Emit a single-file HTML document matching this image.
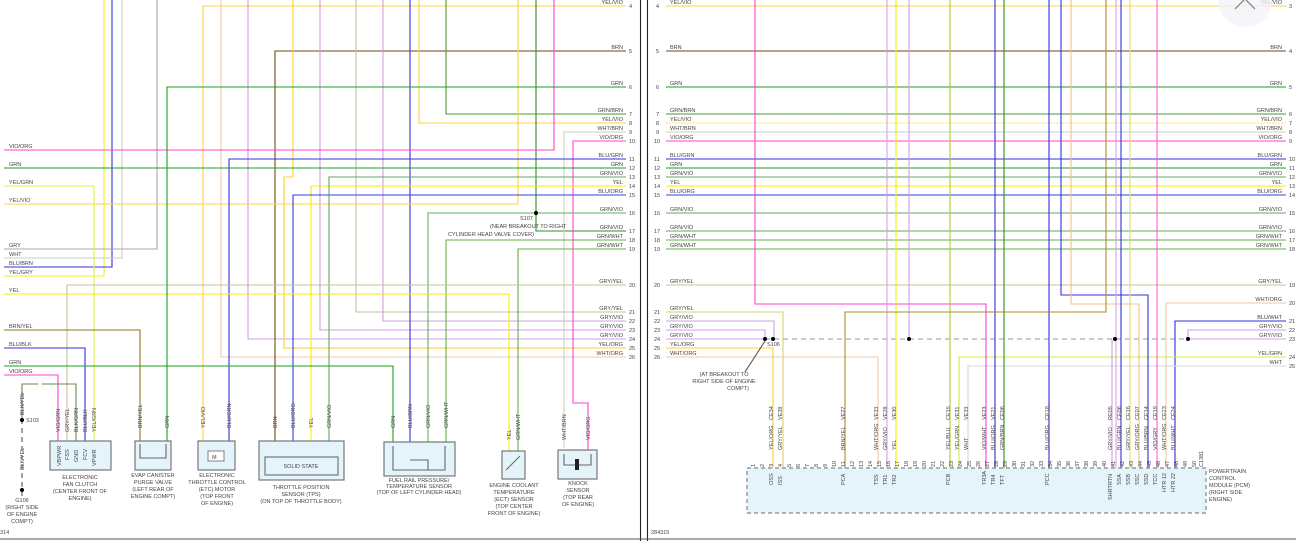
<!DOCTYPE html>
<html><head><meta charset="utf-8"><style>
html,body{margin:0;padding:0;background:#fff;}
svg{display:block;}
text{font-family:"Liberation Sans",sans-serif;font-size:5.5px;fill:#444;}
.r{text-anchor:end;}
.c{text-anchor:middle;}
path,line,polyline{fill:none;stroke-width:1.1;}
.box{fill:#e4f4fa;stroke:#777;stroke-width:1.2;}
</style></head><body>
<svg width="1296" height="541" viewBox="0 0 1296 541" xmlns="http://www.w3.org/2000/svg">
<!-- LEFT PANEL verticals -->
<g>
<path d="M104 0V276H4" stroke="#f0f020"/>
<path d="M112 0V267H4" stroke="#3030e0"/>
<path d="M122 0V258H4" stroke="#c8d0c8"/>
<path d="M157 0V249H4" stroke="#b8a0b0"/>
<path d="M626 6H203V448" stroke="#ffd040"/>
<path d="M221 0V357H626" stroke="#f0c8a8"/>
<path d="M248 0V339H626" stroke="#d0a0e0"/>
<path d="M626 51H275V448" stroke="#6b4a10"/>
<path d="M293 0V177H284V348H626" stroke="#ffd020"/>
<path d="M320 0V330H626" stroke="#d0a0e0"/>
<path d="M356 0V312H626" stroke="#c8c0a0"/>
<path d="M383 0V321H626" stroke="#d0a0e0"/>
<path d="M410 0V448" stroke="#3030e0"/>
<path d="M419 0V123H626" stroke="#ffd040"/>
<path d="M446 0V114H626" stroke="#4a9a30"/>
<path d="M518 0V204H4" stroke="#ffd040"/>
<path d="M536 0V231H626" stroke="#2a902a"/>
<path d="M554 0V150H4" stroke="#ff40d0"/>
<path d="M626 132H564V448" stroke="#c8d0c0"/>
<path d="M626 141H573V403H588V450" stroke="#ff40d0"/>
<path d="M626 159H229V448" stroke="#3030e0"/>
<path d="M4 168H626" stroke="#1aa01a"/>
<path d="M4 186H94V448" stroke="#e0f040"/>
<path d="M626 186H311V448" stroke="#f0f000"/>
<path d="M626 195H293V448" stroke="#3040e0"/>
<path d="M626 177H329V448" stroke="#60a860"/>
<path d="M626 213H428V448" stroke="#60b060"/>
<path d="M626 240H446V448" stroke="#60b040"/>
<path d="M626 249H518V451" stroke="#60b040"/>
<path d="M626 285H67V448" stroke="#c8c0a0"/>
<path d="M4 294H509V451" stroke="#f0f000"/>
<path d="M4 330H140V448" stroke="#8a7a20"/>
<path d="M4 348H85V448" stroke="#3030e0"/>
<path d="M4 366H393V448" stroke="#1aa01a"/>
<path d="M4 375H58V448" stroke="#ff40d0"/>
<path d="M626 87H167V448" stroke="#1aa01a"/>
<path d="M76 448V384H42M38 384H22V420" stroke="#6a8a50"/>
<path d="M22 392V500" stroke="#555" stroke-dasharray="5,4"/>
<circle cx="536" cy="213" r="2" fill="#000"/>
<circle cx="22" cy="420" r="2" fill="#000"/>
<circle cx="22" cy="490" r="2" fill="#000"/>
</g>
<!-- left labels -->
<g>
<text x="9" y="148">VIO/ORG</text><text x="9" y="166">GRN</text><text x="9" y="184">YEL/GRN</text><text x="9" y="202">YEL/VIO</text>
<text x="9" y="247">GRY</text><text x="9" y="256">WHT</text><text x="9" y="265">BLU/BRN</text><text x="9" y="274">YEL/GRY</text>
<text x="9" y="292">YEL</text><text x="9" y="328">BRN/YEL</text><text x="9" y="346">BLU/BLK</text><text x="9" y="364">GRN</text><text x="9" y="373">VIO/ORG</text>
</g>
<g class="r">
<text class="r" x="623" y="4">YEL/VIO</text><text class="r" x="623" y="49">BRN</text><text class="r" x="623" y="85">GRN</text>
<text class="r" x="623" y="112">GRN/BRN</text><text class="r" x="623" y="121">YEL/VIO</text><text class="r" x="623" y="130">WHT/BRN</text><text class="r" x="623" y="139">VIO/ORG</text>
<text class="r" x="623" y="157">BLU/GRN</text><text class="r" x="623" y="166">GRN</text><text class="r" x="623" y="175">GRN/VIO</text><text class="r" x="623" y="184">YEL</text><text class="r" x="623" y="193">BLU/ORG</text>
<text class="r" x="623" y="211">GRN/VIO</text><text class="r" x="623" y="229">GRN/VIO</text><text class="r" x="623" y="238">GRN/WHT</text><text class="r" x="623" y="247">GRN/WHT</text>
<text class="r" x="623" y="283">GRY/YEL</text><text class="r" x="623" y="310">GRY/YEL</text><text class="r" x="623" y="319">GRY/VIO</text><text class="r" x="623" y="328">GRY/VIO</text><text class="r" x="623" y="337">GRY/VIO</text><text class="r" x="623" y="346">YEL/ORG</text><text class="r" x="623" y="355">WHT/ORG</text>
</g>
<g>
<text x="629" y="8">4</text><text x="629" y="53">5</text><text x="629" y="89">6</text><text x="629" y="116">7</text><text x="629" y="125">8</text><text x="629" y="134">9</text><text x="629" y="143">10</text>
<text x="629" y="161">11</text><text x="629" y="170">12</text><text x="629" y="179">13</text><text x="629" y="188">14</text><text x="629" y="197">15</text><text x="629" y="215">16</text><text x="629" y="233">17</text><text x="629" y="242">18</text><text x="629" y="251">19</text>
<text x="629" y="287">20</text><text x="629" y="314">21</text><text x="629" y="323">22</text><text x="629" y="332">23</text><text x="629" y="341">24</text><text x="629" y="350">25</text><text x="629" y="359">26</text>
<text x="520" y="220">S107</text>
<text x="490" y="228">(NEAR BREAKOUT TO RIGHT</text>
<text x="448" y="236">CYLINDER HEAD VALVE COVER)</text>
<text x="26" y="422">S103</text>
</g>
<!-- vertical wire labels left -->
<g font-size="5">
<text transform="translate(24,415) rotate(-90)">BLK/YEL</text>
<text transform="translate(24,470) rotate(-90)">BLK/YEL</text>
<text transform="translate(60,432) rotate(-90)">VIO/GRN</text><text transform="translate(69,432) rotate(-90)">GRY/YEL</text><text transform="translate(78,432) rotate(-90)">BLK/GRN</text><text transform="translate(87,432) rotate(-90)">BLU/BLK</text><text transform="translate(96,432) rotate(-90)">YEL/GRN</text>
<text transform="translate(142,428) rotate(-90)">BRN/YEL</text><text transform="translate(169,428) rotate(-90)">GRN</text>
<text transform="translate(205,428) rotate(-90)">YEL/VIO</text><text transform="translate(231,428) rotate(-90)">BLU/GRN</text>
<text transform="translate(277,428) rotate(-90)">BRN</text><text transform="translate(295,428) rotate(-90)">BLU/ORG</text><text transform="translate(313,428) rotate(-90)">YEL</text><text transform="translate(331,428) rotate(-90)">GRN/VIO</text>
<text transform="translate(395,428) rotate(-90)">GRN</text><text transform="translate(412,428) rotate(-90)">BLU/BRN</text><text transform="translate(430,428) rotate(-90)">GRN/VIO</text><text transform="translate(448,428) rotate(-90)">GRN/WHT</text>
<text transform="translate(511,440) rotate(-90)">YEL</text><text transform="translate(520,440) rotate(-90)">GRN/WHT</text>
<text transform="translate(566,440) rotate(-90)">WHT/BRN</text><text transform="translate(590,440) rotate(-90)">VIO/ORG</text>
</g>
<!-- left components -->
<g>
<rect class="box" x="50" y="441" width="61" height="29"/>
<g font-size="5"><text transform="translate(61,466) rotate(-90)">VBPWR</text><text transform="translate(69,460) rotate(-90)">FSS</text><text transform="translate(78,462) rotate(-90)">GND</text><text transform="translate(87,460) rotate(-90)">FCV</text><text transform="translate(96,466) rotate(-90)">VPWR</text></g>
<rect class="box" x="135" y="441" width="36" height="29"/>
<path d="M140 444V458H166V444" stroke="#666" stroke-width="0.8"/>
<rect class="box" x="198" y="441" width="37" height="29"/>
<rect x="208" y="451" width="16" height="10" fill="#fff" stroke="#666" stroke-width="0.8"/><text x="212" y="459">M</text>
<rect class="box" x="259" y="441" width="85" height="39"/>
<rect class="box" x="265" y="457" width="73" height="18"/>
<text class="c" x="301" y="468">SOLID STATE</text>
<rect class="box" x="384" y="442" width="71" height="34"/>
<path d="M393 446V470H445V446M410 460H428V470" stroke="#666" stroke-width="0.8"/>
<rect class="box" x="502" y="451" width="23" height="28"/>
<path d="M506 470L520 456" stroke="#666" stroke-width="0.8"/>
<rect class="box" x="558" y="450" width="39" height="29"/>
<rect x="575" y="459" width="4" height="11" fill="#222"/>
<path d="M564 454V465H575M579 465H591V454" stroke="#666" stroke-width="0.8"/>
</g>
<g class="c">
<text class="c" x="80" y="479">ELECTRONIC</text><text class="c" x="80" y="486">FAN CLUTCH</text><text class="c" x="80" y="493">(CENTER FRONT OF</text><text class="c" x="80" y="500">ENGINE)</text>
<text class="c" x="153" y="477">EVAP CANISTER</text><text class="c" x="153" y="484">PURGE VALVE</text><text class="c" x="153" y="491">(LEFT REAR OF</text><text class="c" x="153" y="498">ENGINE COMPT)</text>
<text class="c" x="217" y="477">ELECTRONIC</text><text class="c" x="217" y="484">THROTTLE CONTROL</text><text class="c" x="217" y="491">(ETC) MOTOR</text><text class="c" x="217" y="498">(TOP FRONT</text><text class="c" x="217" y="505">OF ENGINE)</text>
<text class="c" x="301" y="489">THROTTLE POSITION</text><text class="c" x="301" y="496">SENSOR (TPS)</text><text class="c" x="301" y="503">(ON TOP OF THROTTLE BODY)</text>
<text class="c" x="419" y="482">FUEL RAIL PRESSURE/</text><text class="c" x="419" y="488">TEMPERATURE SENSOR</text><text class="c" x="419" y="494">(TOP OF LEFT CYLINDER HEAD)</text>
<text class="c" x="514" y="487">ENGINE COOLANT</text><text class="c" x="514" y="494">TEMPERATURE</text><text class="c" x="514" y="501">(ECT) SENSOR</text><text class="c" x="514" y="508">(TOP CENTER</text><text class="c" x="514" y="515">FRONT OF ENGINE)</text>
<text class="c" x="578" y="485">KNOCK</text><text class="c" x="578" y="492">SENSOR</text><text class="c" x="578" y="499">(TOP REAR</text><text class="c" x="578" y="506">OF ENGINE)</text>
<text class="c" x="22" y="502">G106</text><text class="c" x="22" y="509">(RIGHT SIDE</text><text class="c" x="22" y="516">OF ENGINE</text><text class="c" x="22" y="523">COMPT)</text>
</g>
<text x="0" y="534">314</text>
<!-- dividers -->
<line x1="640.5" y1="0" x2="640.5" y2="541" stroke="#222" stroke-width="1.5"/>
<line x1="647.5" y1="0" x2="647.5" y2="541" stroke="#222" stroke-width="1.5"/>
<line x1="0" y1="539" x2="1296" y2="539" stroke="#555" stroke-width="2"/>

<!-- RIGHT PANEL horizontals -->
<g>
<path d="M666 6H1286" stroke="#ffd040"/>
<path d="M666 51H1286" stroke="#6b4a10"/>
<path d="M666 87H1286" stroke="#1aa01a"/>
<path d="M666 114H1286" stroke="#4a9a30"/>
<path d="M666 123H1286" stroke="#ffe060" stroke-dasharray="2,1"/>
<path d="M666 132H1286" stroke="#c8d0c0"/>
<path d="M666 141H1286" stroke="#ff40d0"/>
<path d="M666 159H1286" stroke="#3030e0"/>
<path d="M666 168H1286" stroke="#1aa01a"/>
<path d="M666 177H1286" stroke="#60a860"/>
<path d="M666 186H1286" stroke="#f0f000"/>
<path d="M666 195H1286" stroke="#3040e0"/>
<path d="M666 213H1286" stroke="#60a860"/>
<path d="M666 231H1286" stroke="#60a860"/>
<path d="M666 240H1286" stroke="#60b040"/>
<path d="M666 249H1286" stroke="#60b040"/>
<path d="M666 285H1286" stroke="#c8c0a0"/>
<path d="M666 312H783V468" stroke="#d8d070"/>
<path d="M666 321H774V339" stroke="#d0a0e0"/>
<path d="M666 330H765V339" stroke="#d0a0e0"/>
<path d="M666 339H765" stroke="#d0a0e0"/>
<path d="M666 348H773V468" stroke="#ffd020"/>
<path d="M666 357H878V468" stroke="#f0c8a8"/>
<path d="M765 339H1188" stroke="#999" stroke-dasharray="5,4"/>
<path d="M1286 303H1166V468" stroke="#f0c8a8"/>
<path d="M1286 321H1175V468" stroke="#3030e0"/>
<path d="M1286 330H1188V339" stroke="#d0a0e0"/>
<path d="M1286 339H1188" stroke="#d0a0e0"/>
<path d="M1286 357H959V468" stroke="#c8f040"/>
<path d="M1286 366H968V468" stroke="#d8d8d8"/>
<!-- verticals -->
<path d="M755 0V304H986V468" stroke="#ff40d0"/>
<path d="M887 0V468" stroke="#d8a0e8"/>
<path d="M896 0V468" stroke="#f0f000"/>
<path d="M909 0V339" stroke="#d0a0e0"/>
<path d="M950 0V468" stroke="#b0c830"/>
<path d="M995 0V468" stroke="#3030e0"/>
<path d="M1004 0V468" stroke="#3a8a20"/>
<path d="M1049 0V468" stroke="#3030e0"/>
<path d="M1061 0V295H1148V468" stroke="#3030e0"/>
<path d="M1071 0V304H1139V468" stroke="#f0c090"/>
<path d="M1106 0V312H845V468" stroke="#a89020"/>
<path d="M1116 0V468" stroke="#e0a0e8"/>
<path d="M1121 0V468" stroke="#3030e0"/>
<path d="M1130 0V468" stroke="#d8e070"/>
<path d="M1157 0V468" stroke="#ff60d0"/>
<path d="M1112 339V468" stroke="#d0a0e0"/>
<circle cx="765" cy="339" r="2" fill="#000"/><circle cx="773" cy="339" r="2" fill="#000"/><circle cx="909" cy="339" r="2" fill="#000"/><circle cx="1115" cy="339" r="2" fill="#000"/><circle cx="1188" cy="339" r="2" fill="#000"/>
<path d="M765 341L745 372" stroke="#555" stroke-width="0.7"/>
</g>
<!-- right labels -->
<g>
<text x="670" y="4">YEL/VIO</text><text x="670" y="49">BRN</text><text x="670" y="85">GRN</text><text x="670" y="112">GRN/BRN</text><text x="670" y="121">YEL/VIO</text><text x="670" y="130">WHT/BRN</text><text x="670" y="139">VIO/ORG</text>
<text x="670" y="157">BLU/GRN</text><text x="670" y="166">GRN</text><text x="670" y="175">GRN/VIO</text><text x="670" y="184">YEL</text><text x="670" y="193">BLU/ORG</text><text x="670" y="211">GRN/VIO</text><text x="670" y="229">GRN/VIO</text><text x="670" y="238">GRN/WHT</text><text x="670" y="247">GRN/WHT</text>
<text x="670" y="283">GRY/YEL</text><text x="670" y="310">GRY/YEL</text><text x="670" y="319">GRY/VIO</text><text x="670" y="328">GRY/VIO</text><text x="670" y="337">GRY/VIO</text><text x="670" y="346">YEL/ORG</text><text x="670" y="355">WHT/ORG</text>
<text x="656" y="8">4</text><text x="656" y="53">5</text><text x="656" y="89">6</text><text x="656" y="116">7</text><text x="656" y="125">8</text><text x="656" y="134">9</text><text x="654" y="143">10</text>
<text x="654" y="161">11</text><text x="654" y="170">12</text><text x="654" y="179">13</text><text x="654" y="188">14</text><text x="654" y="197">15</text><text x="654" y="215">16</text><text x="654" y="233">17</text><text x="654" y="242">18</text><text x="654" y="251">19</text>
<text x="654" y="287">20</text><text x="654" y="314">21</text><text x="654" y="323">22</text><text x="654" y="332">23</text><text x="654" y="341">24</text><text x="654" y="350">25</text><text x="654" y="359">26</text>
<text x="767" y="346">S106</text>
<text class="c" x="724" y="376">(AT BREAKOUT TO</text><text class="c" x="724" y="383">RIGHT SIDE OF ENGINE</text><text class="c" x="738" y="390">COMPT)</text>
<text x="651" y="534">284315</text>
</g>
<g>
<text class="r" x="1282" y="4">YEL/VIO</text><text class="r" x="1282" y="49">BRN</text><text class="r" x="1282" y="85">GRN</text><text class="r" x="1282" y="112">GRN/BRN</text><text class="r" x="1282" y="121">YEL/VIO</text><text class="r" x="1282" y="130">WHT/BRN</text><text class="r" x="1282" y="139">VIO/ORG</text>
<text class="r" x="1282" y="157">BLU/GRN</text><text class="r" x="1282" y="166">GRN</text><text class="r" x="1282" y="175">GRN/VIO</text><text class="r" x="1282" y="184">YEL</text><text class="r" x="1282" y="193">BLU/ORG</text><text class="r" x="1282" y="211">GRN/VIO</text><text class="r" x="1282" y="229">GRN/VIO</text><text class="r" x="1282" y="238">GRN/WHT</text><text class="r" x="1282" y="247">GRN/WHT</text>
<text class="r" x="1282" y="283">GRY/YEL</text><text class="r" x="1282" y="301">WHT/ORG</text><text class="r" x="1282" y="319">BLU/WHT</text><text class="r" x="1282" y="328">GRY/VIO</text><text class="r" x="1282" y="337">GRY/VIO</text><text class="r" x="1282" y="355">YEL/GRN</text><text class="r" x="1282" y="364">WHT</text>
<text x="1289" y="8">3</text><text x="1289" y="53">4</text><text x="1289" y="89">5</text><text x="1289" y="116">6</text><text x="1289" y="125">7</text><text x="1289" y="134">8</text><text x="1289" y="143">9</text>
<text x="1289" y="161">10</text><text x="1289" y="170">11</text><text x="1289" y="179">12</text><text x="1289" y="188">13</text><text x="1289" y="197">14</text><text x="1289" y="215">15</text><text x="1289" y="233">16</text><text x="1289" y="242">17</text><text x="1289" y="251">18</text>
<text x="1289" y="287">19</text><text x="1289" y="305">20</text><text x="1289" y="323">21</text><text x="1289" y="332">22</text><text x="1289" y="341">23</text><text x="1289" y="359">24</text><text x="1289" y="368">25</text>
</g>
<!-- PCM -->
<rect x="747" y="468" width="459" height="45" fill="#e4f4fa" stroke="#888" stroke-width="1.2" stroke-dasharray="4,3"/>
<g font-size="5">
<text transform="translate(755,467) rotate(-90)">1</text><text transform="translate(764,467) rotate(-90)">2</text><text transform="translate(773,467) rotate(-90)">3</text><text transform="translate(782,467) rotate(-90)">4</text><text transform="translate(791,467) rotate(-90)">5</text><text transform="translate(800,467) rotate(-90)">6</text><text transform="translate(809,467) rotate(-90)">7</text><text transform="translate(818,467) rotate(-90)">8</text><text transform="translate(827,467) rotate(-90)">9</text><text transform="translate(836,467) rotate(-90)">10</text><text transform="translate(845,467) rotate(-90)">11</text><text transform="translate(854,467) rotate(-90)">12</text><text transform="translate(863,467) rotate(-90)">13</text><text transform="translate(872,467) rotate(-90)">14</text><text transform="translate(881,467) rotate(-90)">15</text><text transform="translate(890,467) rotate(-90)">16</text><text transform="translate(899,467) rotate(-90)">17</text><text transform="translate(908,467) rotate(-90)">18</text><text transform="translate(917,467) rotate(-90)">19</text><text transform="translate(926,467) rotate(-90)">20</text><text transform="translate(935,467) rotate(-90)">21</text><text transform="translate(944,467) rotate(-90)">22</text><text transform="translate(953,467) rotate(-90)">23</text><text transform="translate(962,467) rotate(-90)">24</text><text transform="translate(971,467) rotate(-90)">25</text><text transform="translate(980,467) rotate(-90)">26</text><text transform="translate(989,467) rotate(-90)">27</text><text transform="translate(998,467) rotate(-90)">28</text><text transform="translate(1007,467) rotate(-90)">29</text><text transform="translate(1016,467) rotate(-90)">30</text><text transform="translate(1025,467) rotate(-90)">31</text><text transform="translate(1034,467) rotate(-90)">32</text><text transform="translate(1043,467) rotate(-90)">33</text><text transform="translate(1052,467) rotate(-90)">34</text><text transform="translate(1061,467) rotate(-90)">35</text><text transform="translate(1070,467) rotate(-90)">36</text><text transform="translate(1079,467) rotate(-90)">37</text><text transform="translate(1088,467) rotate(-90)">38</text><text transform="translate(1097,467) rotate(-90)">39</text><text transform="translate(1106,467) rotate(-90)">40</text><text transform="translate(1115,467) rotate(-90)">41</text><text transform="translate(1124,467) rotate(-90)">42</text><text transform="translate(1133,467) rotate(-90)">43</text><text transform="translate(1142,467) rotate(-90)">44</text><text transform="translate(1151,467) rotate(-90)">45</text><text transform="translate(1160,467) rotate(-90)">46</text><text transform="translate(1169,467) rotate(-90)">47</text><text transform="translate(1178,467) rotate(-90)">48</text><text transform="translate(1187,467) rotate(-90)">49</text><text transform="translate(1196,467) rotate(-90)">50</text>
<text transform="translate(1203,467) rotate(-90)">C1381</text>
<text transform="translate(773,450) rotate(-90)">YEL/ORG</text><text transform="translate(782,450) rotate(-90)">GRY/YEL</text><text transform="translate(845,450) rotate(-90)">BRN/YEL</text><text transform="translate(878,450) rotate(-90)">WHT/ORG</text><text transform="translate(887,450) rotate(-90)">GRY/VIO</text><text transform="translate(896,450) rotate(-90)">YEL</text>
<text transform="translate(950,450) rotate(-90)">YEL/BLU</text><text transform="translate(959,450) rotate(-90)">YEL/GRN</text><text transform="translate(968,450) rotate(-90)">WHT</text><text transform="translate(986,450) rotate(-90)">VIO/WHT</text><text transform="translate(995,450) rotate(-90)">BLU/ORG</text><text transform="translate(1004,450) rotate(-90)">GRN/BRN</text><text transform="translate(1049,450) rotate(-90)">BLU/ORG</text>
<text transform="translate(1112,450) rotate(-90)">GRY/VIO</text><text transform="translate(1121,450) rotate(-90)">BLU/GRN</text><text transform="translate(1130,450) rotate(-90)">GRY/YEL</text><text transform="translate(1139,450) rotate(-90)">GRY/ORG</text><text transform="translate(1148,450) rotate(-90)">BLU/BRN</text><text transform="translate(1157,450) rotate(-90)">VIO/GRY</text><text transform="translate(1166,450) rotate(-90)">WHT/ORG</text><text transform="translate(1175,450) rotate(-90)">BLU/WHT</text>
<text transform="translate(773,420) rotate(-90)">CE34</text><text transform="translate(782,420) rotate(-90)">VE39</text><text transform="translate(845,420) rotate(-90)">VE27</text><text transform="translate(878,420) rotate(-90)">VE33</text><text transform="translate(887,420) rotate(-90)">VE28</text><text transform="translate(896,420) rotate(-90)">VE30</text>
<text transform="translate(950,420) rotate(-90)">CE15</text><text transform="translate(959,420) rotate(-90)">VE31</text><text transform="translate(968,420) rotate(-90)">VE33</text><text transform="translate(986,420) rotate(-90)">VE23</text><text transform="translate(995,420) rotate(-90)">VE21</text><text transform="translate(1004,420) rotate(-90)">CE06</text><text transform="translate(1049,420) rotate(-90)">CE18</text>
<text transform="translate(1112,420) rotate(-90)">RE05</text><text transform="translate(1121,420) rotate(-90)">CE06</text><text transform="translate(1130,420) rotate(-90)">CE16</text><text transform="translate(1139,420) rotate(-90)">CE07</text><text transform="translate(1148,420) rotate(-90)">CE14</text><text transform="translate(1157,420) rotate(-90)">CE19</text><text transform="translate(1166,420) rotate(-90)">CE23</text><text transform="translate(1175,420) rotate(-90)">CE24</text>
<text transform="translate(773,485) rotate(-90)">OSS</text><text transform="translate(782,485) rotate(-90)">ISS</text><text transform="translate(845,485) rotate(-90)">PCA</text><text transform="translate(878,485) rotate(-90)">TSS</text><text transform="translate(887,485) rotate(-90)">TR1</text><text transform="translate(896,485) rotate(-90)">TR2</text>
<text transform="translate(950,485) rotate(-90)">PCB</text><text transform="translate(986,485) rotate(-90)">TR3A</text><text transform="translate(995,485) rotate(-90)">TR4</text><text transform="translate(1004,485) rotate(-90)">TFT</text><text transform="translate(1049,485) rotate(-90)">PCC</text>
<text transform="translate(1112,500) rotate(-90)">SHRTRTN</text><text transform="translate(1121,485) rotate(-90)">SSA</text><text transform="translate(1130,485) rotate(-90)">SSB</text><text transform="translate(1139,485) rotate(-90)">SSC</text><text transform="translate(1148,485) rotate(-90)">SSD</text><text transform="translate(1157,485) rotate(-90)">TCC</text><text transform="translate(1166,492) rotate(-90)">HTR 12</text><text transform="translate(1175,492) rotate(-90)">HTR 22</text>
</g>
<text x="1209" y="473">POWERTRAIN</text><text x="1209" y="480">CONTROL</text><text x="1209" y="487">MODULE (PCM)</text><text x="1209" y="494">(RIGHT SIDE</text><text x="1209" y="501">ENGINE)</text>
<!-- corner icon -->
<circle cx="1245" cy="0" r="27" fill="#f4f2f8" opacity="0.8"/>
<path d="M1235 9L1245 -1L1255 9" stroke="#777" stroke-width="4"/>
</svg>
</body></html>
